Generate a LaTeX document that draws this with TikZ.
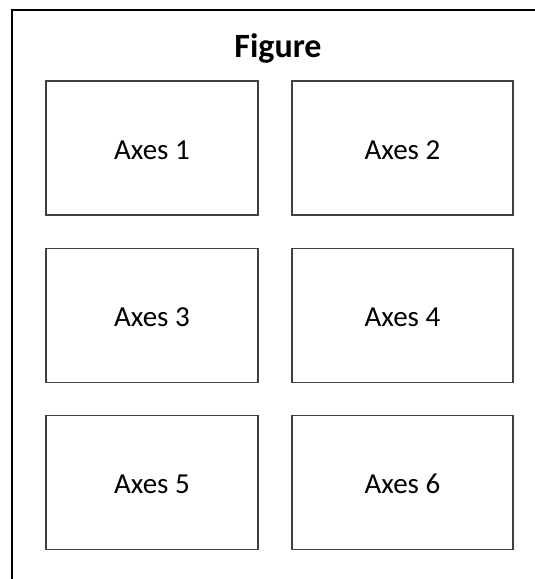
\documentclass[tikz,border=0pt]{standalone}
\usepackage{fontspec}
\setmainfont{Carlito}
\begin{document}
\begin{tikzpicture}[x=1pt,y=-1pt,
  axbox/.style={draw=black!75,line width=1.6pt,rectangle,minimum height=134pt,inner sep=0pt,text height=22pt,text depth=0pt,font=\fontsize{29}{32}\selectfont},
  leftbox/.style={axbox,minimum width=212pt},
  rightbox/.style={axbox,minimum width=221pt},
  frameline/.style={draw=black,line width=2.6pt}]
\useasboundingbox (0,0) rectangle (535,579);
\coordinate (fbl) at (12,580);
\coordinate (ftl) at (12,10);
\coordinate (ftr) at (536,10);
\draw[frameline] (fbl) -- (ftl) -- (ftr);
\node[font=\bfseries\fontsize{34}{38}\selectfont] (title) at (278,48) {Figure};
\node[leftbox] (a1) at (152,148) {Axes 1};
\node[rightbox] (a2) at (402.5,148) {Axes 2};
\node[leftbox] (a3) at (152,315.5) {Axes 3};
\node[rightbox] (a4) at (402.5,315.5) {Axes 4};
\node[leftbox] (a5) at (152,482.5) {Axes 5};
\node[rightbox] (a6) at (402.5,482.5) {Axes 6};
\end{tikzpicture}
\end{document}
